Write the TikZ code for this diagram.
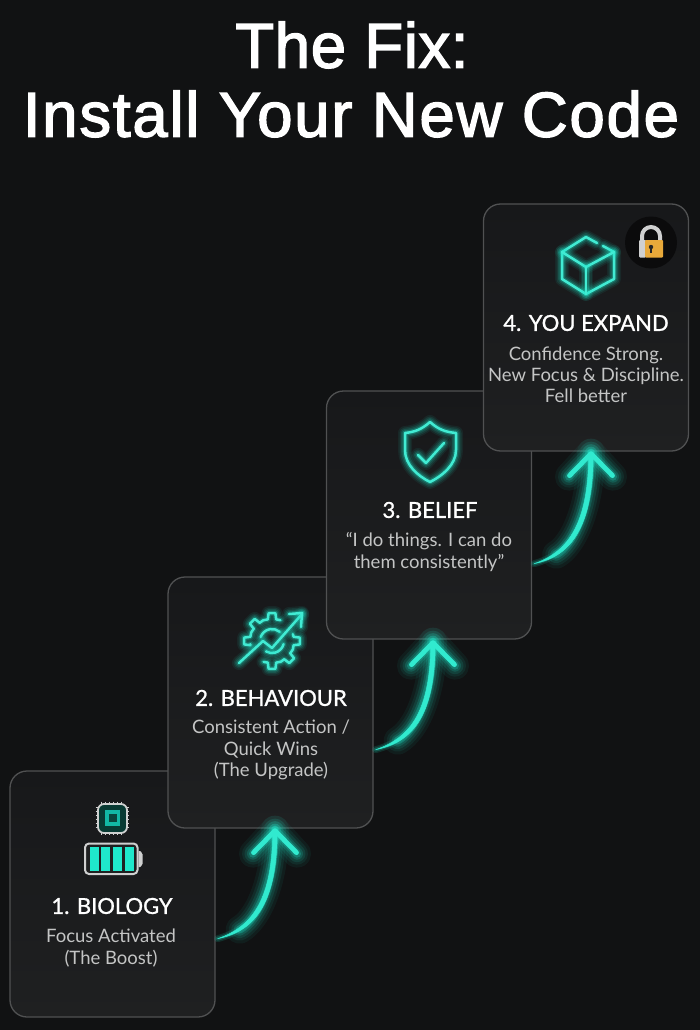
\documentclass[tikz,border=0pt]{standalone}
\usepackage{fontspec}
\setmainfont{Lato}
\newfontfamily\titlefont[FakeBold=2.2,LetterSpace=2.8]{Liberation Sans}
\newfontfamily\titlefontb[FakeBold=2.2,LetterSpace=1]{Liberation Sans}
\newfontfamily\headfont[FakeBold=1.1]{Lato}
\usetikzlibrary{calc}
\definecolor{bg}{HTML}{111213}
\definecolor{cardtop}{HTML}{17181A}
\definecolor{cardbot}{HTML}{1F2021}
\definecolor{cardline}{HTML}{505152}
\definecolor{neon}{HTML}{1FE8CB}
\definecolor{neondim}{HTML}{12B8A5}
\definecolor{subtext}{HTML}{C4C5C5}
\definecolor{silver}{HTML}{CFD0D0}
\definecolor{gold}{HTML}{E8A93A}
\definecolor{lockback}{HTML}{0B0B0C}
\tikzset{
  x=1pt,y=-1pt,
  card/.style={draw=cardline,line width=1.3pt,rounded corners=17pt,top color=cardtop,bottom color=cardbot,inner sep=0pt,minimum width=205pt},
  headtext/.style={text=white,font=\headfont\fontsize{22}{26}\selectfont,inner sep=0pt},
  subtitle/.style={text=subtext,align=center,font=\fontsize{18.5}{21.2}\selectfont,inner sep=0pt},
  maintitle/.style={text=white,font=\titlefont\fontsize{63.5}{70}\selectfont,inner sep=0pt},
  maintitleb/.style={text=white,font=\titlefontb\fontsize{63.5}{70}\selectfont,inner sep=0pt},
  neoncore/.style={draw=neon!85!white,line width=2.5pt,line cap=round,line join=round},
  shaft/.style={fill=neon!92!white,draw=neon!92!white,line width=.5pt,line join=round},
  wing/.style={draw=neon!92!white,line width=4.8pt,line cap=round,line join=round}
}
\newcommand\neonpath[1]{%
  \foreach \w/\o in {14/.07,11/.1,8/.14,5/.25}{\draw[neon,line width=\w pt,opacity=\o,line cap=round,line join=round] #1;}%
  \draw[neoncore] #1;}
\newcommand\glowarrow[2]{%
  \foreach \w/\o in {28/.06,22/.08,17/.11,12/.16,8/.25}{%
    \draw[neon,line width=\w pt,opacity=\o,line cap=round,line join=round]
      ($(#1)+(22,-9)$) .. controls ($(#1)+(40,-19)$) and ($(#2)+(0,52)$) .. (#2);
    \draw[neon,line width=\w pt,opacity=\o,line cap=round,line join=round]
      ($(#2)+(-22,24)$) -- (#2) -- ($(#2)+(22,24)$);}%
  \foreach \w/\o in {7/.14,4/.22}{%
    \draw[neon,line width=\w pt,opacity=\o,line cap=round]
      (#1) .. controls ($(#1)+(37,-10)$) and ($(#2)+(0,70)$) .. (#2);}%
  \fill[shaft] (#1) .. controls ($(#1)+(35.5,-12)$) and ($(#2)+(-2.3,68.5)$) .. ($(#2)+(-2.3,0)$)
    -- ($(#2)+(2.3,0)$) .. controls ($(#2)+(2.3,71)$) and ($(#1)+(39,-7.5)$) .. (#1) -- cycle;
  \draw[wing] ($(#2)+(-21.5,23)$) -- ($(#2)+(0,1)$) -- ($(#2)+(21.5,23)$);}
\begin{document}
\begin{tikzpicture}
\useasboundingbox (0,0) rectangle (700,1030);
\fill[bg] (0,0) rectangle (700,1030);

\node[maintitleb] (t1) at (352,45) {The Fix:};
\node[maintitle] (t2) at (351,114) {Install Your New Code};

% cards
\node[card,minimum height=246pt] (c1) at (112.5,894) {};
\node[card,minimum height=251pt] (c2) at (270.5,702.5) {};
\node[card,minimum height=248pt] (c3) at (429,515) {};
\node[card,minimum height=247pt] (c4) at (586,327.5) {};

% connectors
\coordinate (a1s) at ($(c1.south east)+(2,-79)$);
\coordinate (a1t) at ($(c2.south)+(4.5,1)$);
\coordinate (a2s) at ($(c2.south east)+(2,-79)$);
\coordinate (a2t) at ($(c3.south)+(4,2)$);
\coordinate (a3s) at ($(c3.south east)+(2,-76)$);
\coordinate (a3t) at ($(c4.south)+(5,1)$);
\glowarrow{a1s}{a1t}
\glowarrow{a2s}{a2t}
\glowarrow{a3s}{a3t}

% card 1 text and icon
\node[headtext] (h1) at (112,906) {1. BIOLOGY};
\node[subtitle] (s1) at (111,948) {Focus Activated\\(The Boost)};
\draw[silver,line width=.8pt] \foreach \p in {101,105,109,113,117,121}{(\p,801.5) -- (\p,835) };
\draw[silver,line width=.8pt] \foreach \p in {807,811,815,819,823,827}{(95.5,\p) -- (129,\p) };
\draw[silver,fill=black!75!neon,line width=1.8pt,rounded corners=6pt] (98,804) rectangle (127,833);
\fill[neondim] (105,810) rectangle (120,826);
\fill[black!70!neon] (109,814) rectangle (117,822);
\draw[silver,line width=2pt,rounded corners=4pt,fill=cardbot] (85,843.5) rectangle (137.5,874);
\fill[silver] (138.5,851) -- (140,851) to[out=0,in=-90] (142.5,854) -- (142.5,864) to[out=90,in=0] (140,867) -- (138.5,867) -- cycle;
\foreach \l/\r in {89.5/98.5,101/110,112.5/122,124.5/133.5}{\fill[neon] (\l,847) rectangle (\r,870.5);}

% card 2 text and icon
\node[headtext] (h2) at (271,698) {2. BEHAVIOUR};
\node[subtitle] (s2) at (271,750) {Consistent Action /\\Quick Wins\\(The Upgrade)};
\begin{scope}[shift={(272,641)}]
\neonpath{(172:22) \foreach \a in {180,225,270}{ -- (\a-11:22) -- (\a-7:28) -- (\a+7:28) -- (\a+11:22) -- (\a+22:22.5)}}
\neonpath{(-18:22) \foreach \a in {0,45,90}{ -- (\a-11:22) -- (\a-7:28) -- (\a+7:28) -- (\a+11:22) -- (\a+22:22.5)}}
\neonpath{(200:12) arc (200:310:12)}
\neonpath{(15:12) arc (15:120:12)}
\neonpath{(-33,22) -- (-9,0) -- (0,7) -- (30,-27)}
\neonpath{(17,-27) -- (30,-28) -- (29,-14)}
\end{scope}

% card 3 text and icon
\node[headtext] (h3) at (430,510) {3. BELIEF};
\node[subtitle] (s3) at (429,552) {“I do things. I can do\\them consistently”};
\neonpath{(430,422) .. controls (421,430) and (414,432) .. (405,433) -- (405,450) .. controls (405,465) and (418,476) .. (430,482) .. controls (442,476) and (456,465) .. (456,450) -- (456,433) .. controls (446,432) and (439,430) .. (430,422) -- cycle}
\neonpath{(418,455) -- (426,463) -- (444,443)}

% card 4 text and icon
\node[headtext] (h4) at (586,323) {4. YOU EXPAND};
\node[subtitle] (s4) at (586,375) {Confidence Strong.\\New Focus \& Discipline.\\Fell better};
\neonpath{(597,243) -- (586,237) -- (562,252) -- (562,279) -- (586,294) -- (614,279) -- (614,252) -- (603,246)}
\neonpath{(562,252) -- (586,267) -- (614,252)}
\neonpath{(586,267) -- (586,294)}

% padlock
\fill[lockback] (651,242.5) circle (26);
\draw[silver,line width=4pt] (642,242) -- (642,236) arc (180:360:9) -- (660,242);
\fill[silver,rounded corners=1pt] (639,240) rectangle (646,257.5);
\fill[gold,rounded corners=1pt] (645,240) rectangle (663,257.5);
\fill[black!85] (651,247) circle (2.2);
\fill[black!85] (650.2,247) rectangle (651.8,253);
\end{tikzpicture}
\end{document}
